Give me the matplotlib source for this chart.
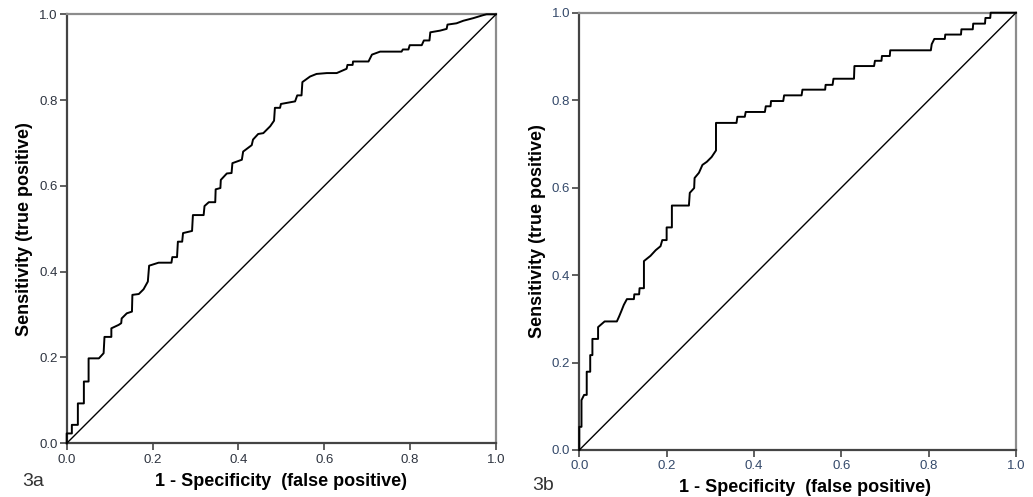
import matplotlib
matplotlib.use("Agg")
import matplotlib.pyplot as plt

plt.rcParams["font.family"] = ["Liberation Sans", "DejaVu Sans"]

# ROC curve vertices (panel 3a)
fpr_a = [0, 0, 0.012, 0.012, 0.026, 0.026, 0.040, 0.040, 0.051, 0.051, 0.075, 0.086, 0.088,
         0.104, 0.104, 0.121, 0.127, 0.128, 0.14, 0.152, 0.153, 0.168, 0.179, 0.189, 0.192,
         0.214, 0.244, 0.246, 0.257, 0.259, 0.269, 0.271, 0.292, 0.294, 0.319, 0.321, 0.331,
         0.346, 0.347, 0.358, 0.359, 0.373, 0.384, 0.386, 0.408, 0.411, 0.431, 0.434, 0.446,
         0.458, 0.474, 0.483, 0.485, 0.497, 0.499, 0.532, 0.537, 0.547, 0.549, 0.567, 0.582,
         0.606, 0.629, 0.652, 0.654, 0.666, 0.667, 0.703, 0.711, 0.73, 0.78, 0.783, 0.796,
         0.799, 0.827, 0.832, 0.845, 0.847, 0.87, 0.885, 0.887, 0.908, 0.924, 0.947, 0.97,
         0.978, 1.0]
tpr_a = [0, 0.023, 0.023, 0.043, 0.043, 0.093, 0.093, 0.144, 0.144, 0.198, 0.198, 0.21, 0.248,
         0.248, 0.268, 0.276, 0.28, 0.291, 0.303, 0.307, 0.346, 0.348, 0.359, 0.377, 0.414,
         0.421, 0.421, 0.434, 0.434, 0.47, 0.47, 0.49, 0.495, 0.532, 0.532, 0.553, 0.562,
         0.562, 0.592, 0.595, 0.614, 0.629, 0.63, 0.653, 0.661, 0.68, 0.695, 0.708, 0.721,
         0.723, 0.739, 0.752, 0.782, 0.782, 0.791, 0.797, 0.811, 0.811, 0.842, 0.855, 0.861,
         0.863, 0.863, 0.873, 0.882, 0.882, 0.89, 0.89, 0.906, 0.913, 0.913, 0.918, 0.918,
         0.928, 0.928, 0.939, 0.939, 0.958, 0.962, 0.966, 0.976, 0.979, 0.985, 0.991, 0.998,
         1.0, 1.0]

# ROC curve vertices (panel 3b)
fpr_b = [0, 0, 0.005, 0.005, 0.011, 0.017, 0.017, 0.025, 0.025, 0.03, 0.03, 0.043, 0.043,
         0.058, 0.086, 0.091, 0.096, 0.102, 0.109, 0.125, 0.126, 0.137, 0.138, 0.148, 0.148,
         0.163, 0.175, 0.186, 0.19, 0.2, 0.2, 0.212, 0.212, 0.251, 0.253, 0.263, 0.264,
         0.274, 0.282, 0.292, 0.303, 0.313, 0.313, 0.36, 0.362, 0.379, 0.381, 0.425, 0.427,
         0.438, 0.439, 0.467, 0.469, 0.509, 0.511, 0.563, 0.564, 0.58, 0.582, 0.629, 0.63,
         0.675, 0.677, 0.692, 0.693, 0.711, 0.712, 0.805, 0.807, 0.813, 0.837, 0.838, 0.874,
         0.875, 0.901, 0.902, 0.929, 0.93, 0.941, 0.942, 1.0]
tpr_b = [0, 0.053, 0.053, 0.114, 0.126, 0.126, 0.179, 0.179, 0.217, 0.217, 0.254, 0.254, 0.281,
         0.294, 0.294, 0.305, 0.317, 0.332, 0.345, 0.345, 0.356, 0.356, 0.37, 0.37, 0.432,
         0.444, 0.457, 0.466, 0.48, 0.48, 0.509, 0.509, 0.559, 0.559, 0.588, 0.599, 0.622,
         0.634, 0.652, 0.659, 0.670, 0.685, 0.748, 0.748, 0.762, 0.762, 0.773, 0.773, 0.786,
         0.786, 0.798, 0.798, 0.811, 0.811, 0.824, 0.824, 0.835, 0.835, 0.849, 0.849, 0.878,
         0.878, 0.89, 0.89, 0.901, 0.901, 0.914, 0.914, 0.928, 0.94, 0.94, 0.95, 0.95,
         0.962, 0.962, 0.975, 0.975, 0.988, 0.988, 1.0, 1.0]

ticks = [0.0, 0.2, 0.4, 0.6, 0.8, 1.0]
tick_labels = ["0.0", "0.2", "0.4", "0.6", "0.8", "1.0"]
xlabel = "1 - Specificity  (false positive)"
ylabel = "Sensitivity (true positive)"

fig = plt.figure(figsize=(10.33, 4.97), dpi=100)

W, H = 1033, 497
# axes boxes in pixels: left, top, right, bottom
boxes = [(66.7, 14.3, 496, 443.3), (579.3, 12.7, 1016, 450)]
panels = [("3a", fpr_a, tpr_a, "#2e3440"), ("3b", fpr_b, tpr_b, "#34496a")]


def make_panel(box, name, fpr, tpr, tick_color):
    l, t, r, b = box
    ax = fig.add_axes([l / W, 1 - b / H, (r - l) / W, (b - t) / H])
    ax.plot(fpr, tpr, color="black", lw=1.4, clip_on=False, zorder=3)
    ax.plot([0, 1], [0, 1], color="black", lw=1.0, clip_on=False, zorder=3)
    ax.set_xlim(0, 1)
    ax.set_ylim(0, 1)
    ax.set_xticks(ticks)
    ax.set_xticklabels(tick_labels)
    ax.set_yticks(ticks)
    ax.set_yticklabels(tick_labels)
    ax.tick_params(axis="both", direction="out", length=5, width=1.2, color="#444444",
                   labelsize=9.5, labelcolor=tick_color)
    ax.tick_params(axis="x", pad=2.5)
    ax.tick_params(axis="y", pad=1.5)
    for side in ["left", "bottom"]:
        ax.spines[side].set_color("#444444")
        ax.spines[side].set_linewidth(1.6)
    for side in ["top", "right"]:
        ax.spines[side].set_color("#8c8c8c")
        ax.spines[side].set_linewidth(1.6)

    ax.set_xlabel(xlabel, fontsize=13, fontweight="bold", va="center")
    ax.set_ylabel(ylabel, fontsize=13, fontweight="bold", va="center")
    return ax


ax_a = make_panel(boxes[0], *panels[0])
ax_a.xaxis.set_label_coords(0.5, -(481 - 443.3) / 429)
ax_a.yaxis.set_label_coords((25 - 66.7) / 429.3, 0.5)
fig.text(22 / W, 1 - 481 / H, "3a", fontsize=14, color="#333333", va="center", ha="left")

ax_b = make_panel(boxes[1], *panels[1])
ax_b.xaxis.set_label_coords((805 - 579.3) / 436.7, -(487 - 450) / 437.3)
ax_b.yaxis.set_label_coords((538 - 579.3) / 436.7, 0.5)
fig.text(532 / W, 1 - 485 / H, "3b", fontsize=14, color="#333333", va="center", ha="left")

fig.savefig("out.png", dpi=100)
